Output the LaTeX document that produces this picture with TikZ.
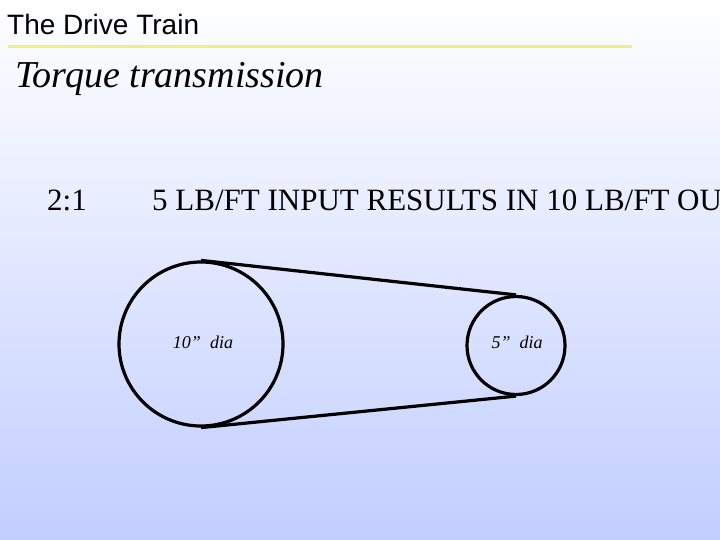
\documentclass[tikz,border=0pt]{standalone}
\usepackage{fontspec}
\setmainfont{Liberation Serif}
\newfontfamily\titlefont{Liberation Sans}
\definecolor{bgbot}{RGB}{194,206,255}
\definecolor{rulecol}{RGB}{240,240,128}
\tikzset{
  pulley/.style={circle,draw=black,line width=3.2pt,inner sep=0pt},
  belt/.style={line width=3.2pt,black},
  lbl/.style={font=\itshape\fontsize{18}{21}\selectfont}
}
\begin{document}
\begin{tikzpicture}[x=1pt,y=-1pt]
\useasboundingbox (0,0) rectangle (720,540);
\clip (0,0) rectangle (720,540);
\shade[top color=white,bottom color=bgbot] (0,0) rectangle (720,540);
\node[anchor=base west,inner sep=0pt,font=\titlefont\fontsize{28}{32}\selectfont] (title) at (7,35) {The Drive Train};
\draw[rulecol,line width=3pt] (8,47) -- (632,47);
\node[anchor=base west,inner sep=0pt,font=\itshape\fontsize{38}{44}\selectfont] (sub) at (15,88) {Torque transmission};
\node[anchor=base west,inner sep=0pt,font=\fontsize{31}{36}\selectfont] (ratio) at (47,211) {2:1};
\node[anchor=base west,inner sep=0pt,font=\fontsize{31}{36}\selectfont] (desc) at (152,211) {5 LB/FT INPUT RESULTS IN 10 LB/FT OUTPUT};
\node[pulley,minimum size=164pt] (big) at (201,344) {};
\node[pulley,minimum size=98pt] (small) at (516,345.5) {};
\node[lbl] (bl) at (203,342) {10” \ dia};
\node[lbl] (sl) at (517,342) {5” \ dia};
\draw[belt] (big.north) -- (small.north);
\draw[belt] (big.south) -- (small.south);
\end{tikzpicture}
\end{document}
